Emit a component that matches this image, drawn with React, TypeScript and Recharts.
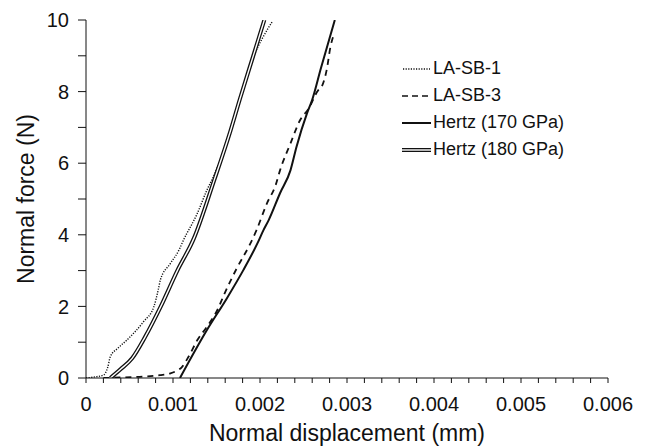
import React from 'react';
import { LineChart, Line, XAxis, YAxis, Legend, Label } from 'recharts';

// LA-SB-1 (dotted)
const laSb1Disp = [0, 0.0001, 0.0002, 0.00025, 0.00028, 0.00036, 0.00047, 0.00066, 0.00078, 0.00083, 0.000855, 0.00097, 0.00107, 0.00112, 0.00128, 0.00139, 0.00146, 0.00167, 0.00178, 0.00193, 0.00203, 0.00214];
const laSb1Force = [0, 0.03, 0.08, 0.3, 0.6, 0.82, 1.06, 1.57, 1.99, 2.46, 2.74, 3.2, 3.58, 3.85, 4.6, 5.25, 5.6, 7.0, 7.85, 9.0, 9.5, 9.95];

// LA-SB-3 (dashed)
const laSb3Disp = [0.0002, 0.00045, 0.00066, 0.00085, 0.00097, 0.00104, 0.0011, 0.00118, 0.00128, 0.00138, 0.00151, 0.0016, 0.00173, 0.00189, 0.00196, 0.00208, 0.00218, 0.00223, 0.00235, 0.00246, 0.00256, 0.00267, 0.00271, 0.00277, 0.00281, 0.00285];
const laSb3Force = [0, 0.02, 0.04, 0.08, 0.13, 0.2, 0.3, 0.6, 1.06, 1.4, 1.9, 2.4, 3.05, 3.76, 4.13, 4.88, 5.39, 5.8, 6.55, 7.2, 7.53, 8.04, 8.14, 8.65, 9.25, 9.6];

// Hertz (170 GPa) (solid)
const hertz170Disp = [0.00108, 0.00139, 0.00162, 0.00181, 0.00197, 0.00204, 0.0021, 0.00223, 0.00235, 0.00242, 0.00254, 0.0026, 0.0027, 0.00286];
const hertz170Force = [0, 1.34, 2.23, 3.02, 3.76, 4.13, 4.41, 5.16, 5.8, 6.46, 7.39, 7.77, 8.65, 10];

// Hertz (180 GPa) (double line)
const hertz180Disp = [0.00028, 0.0004, 0.00053, 0.00068, 0.00086, 0.00105, 0.00124, 0.00147, 0.00166, 0.00177, 0.00191, 0.00205];
const hertz180Force = [0, 0.25, 0.55, 1.15, 2.0, 3.0, 3.9, 5.5, 6.9, 7.8, 8.9, 10];

const xTicks = [0, 0.0002, 0.0004, 0.0006, 0.0008, 0.001, 0.0012, 0.0014, 0.0016, 0.0018, 0.002, 0.0022, 0.0024, 0.0026, 0.0028, 0.003, 0.0032, 0.0034, 0.0036, 0.0038, 0.004, 0.0042, 0.0044, 0.0046, 0.0048, 0.005, 0.0052, 0.0054, 0.0056, 0.0058, 0.006];
const xLabels = ['0', '0.001', '0.002', '0.003', '0.004', '0.005', '0.006'];
const yTicks = [0, 1, 2, 3, 4, 5, 6, 7, 8, 9, 10];
const yLabels = ['0', '2', '4', '6', '8', '10'];

const legendNames = ['LA-SB-1', 'LA-SB-3', 'Hertz (170 GPa)', 'Hertz (180 GPa)'];

const toPoints = (xs: number[], ys: number[]) => xs.map((x, i) => ({ x, y: ys[i] }));

const FONT = '"Liberation Sans", Arial, sans-serif';

const fmtX = (v: number) => {
  const k = v * 1000;
  if (Math.abs(k - Math.round(k)) < 1e-6) return xLabels[Math.round(k)] ?? '';
  return '';
};
const fmtY = (v: number) => (v % 2 === 0 ? yLabels[v / 2] : '');

const Sample = ({ kind }: { kind: number }) => (
  <svg width={29} height={10} style={{ display: 'block' }}>
    {kind === 0 && <line x1={1} y1={5} x2={28} y2={5} stroke="#111" strokeWidth={1.4} strokeDasharray="1.2 1.4" />}
    {kind === 1 && <line x1={0} y1={5} x2={29} y2={5} stroke="#111" strokeWidth={1.6} strokeDasharray="6 4" />}
    {kind === 2 && <line x1={0} y1={5} x2={29} y2={5} stroke="#111" strokeWidth={2} />}
    {kind === 3 && (
      <>
        <line x1={0} y1={5} x2={29} y2={5} stroke="#111" strokeWidth={4} />
        <line x1={0} y1={5} x2={29} y2={5} stroke="#fff" strokeWidth={1.4} />
      </>
    )}
  </svg>
);

const renderLegend = () => (
  <div style={{ fontFamily: FONT, fontSize: 18, color: '#111' }}>
    {legendNames.map((n, i) => (
      <div key={n} style={{ display: 'flex', alignItems: 'center', height: 27, lineHeight: '27px' }}>
        <Sample kind={i} />
        <span style={{ marginLeft: 2, whiteSpace: 'nowrap' }}>{n}</span>
      </div>
    ))}
  </div>
);

export default function App() {
  const tickStyle = { fontFamily: FONT, fontSize: 20, fill: '#111' };
  return (
    <div style={{ width: 639, height: 438 }}>
      <LineChart width={639} height={438} margin={{ top: 12, right: 39, bottom: 0, left: 0 }}>
        <XAxis
          type="number"
          dataKey="x"
          domain={[0, 0.006]}
          ticks={xTicks}
          interval={0}
          tickFormatter={fmtX}
          tickSize={5}
          tickMargin={14}
          height={68}
          allowDataOverflow
          stroke="#111"
          tick={tickStyle}
        >
          <Label value="Normal displacement (mm)" position="insideBottom" offset={5} style={{ fontFamily: FONT, fontSize: 23, fill: '#111' }} />
        </XAxis>
        <YAxis
          type="number"
          dataKey="y"
          domain={[0, 10]}
          ticks={yTicks}
          interval={0}
          tickFormatter={fmtY}
          tickSize={8}
          tickMargin={9}
          width={78}
          allowDataOverflow
          stroke="#111"
          tick={tickStyle}
        >
          <Label value="Normal force (N)" angle={-90} position="insideLeft" offset={18} style={{ fontFamily: FONT, fontSize: 23, fill: '#111', textAnchor: 'middle' }} />
        </YAxis>
        <Legend
          layout="vertical"
          align="center"
          verticalAlign="middle"
          content={renderLegend}
          wrapperStyle={{ position: 'absolute', left: 394, top: 47, width: 'auto' }}
        />
        <Line data={toPoints(laSb1Disp, laSb1Force)} dataKey="y" type="monotone" stroke="#111" strokeWidth={1.4} strokeDasharray="1.2 1.4" dot={false} isAnimationActive={false} legendType="none" />
        <Line data={toPoints(laSb3Disp, laSb3Force)} dataKey="y" type="monotone" stroke="#111" strokeWidth={1.8} strokeDasharray="6 5" dot={false} isAnimationActive={false} legendType="none" />
        <Line data={toPoints(hertz170Disp, hertz170Force)} dataKey="y" type="monotone" stroke="#111" strokeWidth={2} dot={false} isAnimationActive={false} legendType="none" />
        <Line data={toPoints(hertz180Disp, hertz180Force)} dataKey="y" type="monotone" stroke="#111" strokeWidth={4} dot={false} isAnimationActive={false} legendType="none" />
        <Line data={toPoints(hertz180Disp, hertz180Force)} dataKey="y" type="monotone" stroke="#fff" strokeWidth={1.4} dot={false} isAnimationActive={false} legendType="none" />
      </LineChart>
    </div>
  );
}
